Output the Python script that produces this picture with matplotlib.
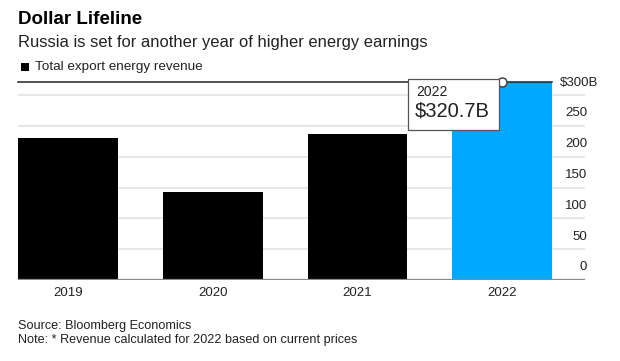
import matplotlib
matplotlib.use('Agg')
import matplotlib.pyplot as plt
from matplotlib.patches import Rectangle

plt.rcParams['font.family'] = ['Liberation Sans', 'DejaVu Sans']

##### data #####
years = ['2019', '2020', '2021', '2022']
revenue = [231, 143, 236.5, 320.7]      # $B, total export energy revenue
tick_values = [0, 50, 100, 150, 200, 250, 300]
tick_labels = ['0', '50', '100', '150', '200', '250', '$300B']
highlight_year = '2022'

black = '#000000'
blue = '#00A8FF'
grid_col = '#e3e3e3'
text_col = '#222222'

fig = plt.figure(figsize=(6.2, 3.61), dpi=100)
ax = fig.add_axes([18 / 620, 1 - 280 / 361, (585 - 18) / 620, 200.2 / 361])

x = list(range(len(years)))
colors = [blue if y == highlight_year else black for y in years]
ax.bar(x, revenue, width=0.69, color=colors, zorder=2)

ax.set_xlim(-0.345, 3.572)
ax.set_ylim(0, 325)

# gridlines
for v in tick_values[1:]:
    ax.axhline(v, color=grid_col, lw=1.2, zorder=1)
ax.axhline(0, color='#8a8a8a', lw=1.6, zorder=3)

# y labels sit above their gridlines on the right
for v, lbl in zip(tick_values, tick_labels):
    xoff = 9.5 if lbl.endswith('B') else 1.5
    ax.annotate(lbl, xy=(1.0, v), xycoords=('axes fraction', 'data'),
                xytext=(xoff, 9), textcoords='offset points',
                ha='right', va='center', fontsize=9.5, color=text_col)

for xi, y in zip(x, years):
    ax.annotate(y, xy=(xi, 0), xycoords='data', xytext=(0, -9.6),
                textcoords='offset points', ha='center', va='center',
                fontsize=9.5, color=text_col)

for s in ax.spines.values():
    s.set_visible(False)
ax.set_xticks([])
ax.set_yticks([])

# tooltip line + marker for the highlighted bar
hi = years.index(highlight_year)
ax.plot([-0.345, hi + 0.345], [revenue[hi], revenue[hi]], color='#222222', lw=1.1,
        zorder=4, clip_on=False)
ax.plot(hi, revenue[hi], 'o', ms=6.5, mfc='white', mec='#444444', mew=1.1,
        zorder=6, clip_on=False)

box = Rectangle((408 / 620, 1 - 130 / 361), 91 / 620, 51 / 361,
                transform=fig.transFigure, facecolor='white',
                edgecolor='#555555', lw=0.9, zorder=5)
fig.patches.append(box)
fig.text(416 / 620, 1 - 92 / 361, highlight_year, fontsize=10,
         color=text_col, va='center', zorder=6)
fig.text(415 / 620, 1 - 111 / 361, f'${revenue[hi]}B', fontsize=14.5,
         color=text_col, va='center', zorder=6)

# titles
fig.text(18 / 620, 1 - 20 / 361, 'Dollar Lifeline', fontsize=13.5,
         fontweight='bold', color='black', va='center')
fig.text(18 / 620, 1 - 43 / 361,
         'Russia is set for another year of higher energy earnings',
         fontsize=11.9, color=text_col, va='center')
fig.patches.append(Rectangle((21 / 620, 1 - 71 / 361), 8 / 620, 8 / 361,
                             transform=fig.transFigure, facecolor='black',
                             edgecolor='none'))
fig.text(35 / 620, 1 - 67 / 361, 'Total export energy revenue',
         fontsize=9.7, color=text_col, va='center')

fig.text(18 / 620, 1 - 326 / 361, 'Source: Bloomberg Economics',
         fontsize=9.1, color=text_col, va='center')
fig.text(18 / 620, 1 - 340 / 361,
         'Note: * Revenue calculated for 2022 based on current prices',
         fontsize=9.1, color=text_col, va='center')

fig.savefig('out.png', dpi=100)
